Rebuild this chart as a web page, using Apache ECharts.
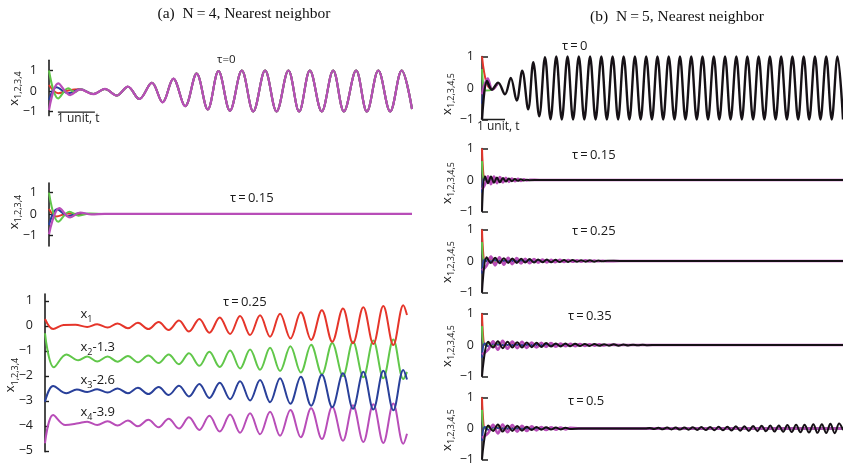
<!DOCTYPE html>
<html>
<head>
<meta charset="utf-8">
<script src="https://cdn.jsdelivr.net/npm/echarts@6/dist/echarts.min.js"></script>
<style>
html,body{margin:0;padding:0;background:#fff}
#c{width:843px;height:466px}
</style>
</head>
<body>
<div id="c"></div>
<script>
// ---------- data: extrema of each trajectory, t in units of the "1 unit" scale bar ----------

// (a) N=4, tau=0 : common trajectory after the initial transient
const tA0 = [0.84,1.20,1.51,1.83,2.13,2.44,2.78,3.07,3.36,3.68,3.99,4.29,4.58,4.89,5.21,5.52,5.84,6.15,6.47,6.76,7.05,7.37,7.68,7.97,8.30,8.59,8.90,9.22,9.53,9.81];
const xA0 = [0.08,-0.15,0.10,-0.22,0.21,-0.39,0.40,-0.55,0.60,-0.74,0.85,-0.90,0.97,-0.96,1.00,-1.00,1.00,-1.00,1.00,-1.00,1.00,-1.00,1.00,-1.00,1.00,-1.00,1.00,-1.00,1.00,-0.88];
const headA0_x1 = [[0,0.29],[0.25,-0.11],[0.55,0.04]];
const headA0_x2 = [[0,1.00],[0.25,-0.36],[0.52,0.13],[0.70,-0.06]];
const headA0_x3 = [[0,-0.44],[0.20,0.18],[0.52,-0.11]];
const headA0_x4 = [[0,-0.93],[0.25,0.37],[0.57,-0.20]];

// (a) N=4, tau=0.15
const A15_x1 = [[0,0.24],[0.20,-0.12],[0.50,0.02],[0.80,0],[9.81,0]];
const A15_x2 = [[0,1.00],[0.25,-0.37],[0.55,0.11],[0.80,-0.08],[1.10,0.02],[1.50,0],[9.81,0]];
const A15_x3 = [[0,-0.52],[0.22,0.22],[0.52,-0.10],[0.80,0.03],[1.20,0],[9.81,0]];
const A15_x4 = [[0,-0.95],[0.28,0.27],[0.57,-0.16],[0.84,0.06],[1.15,-0.02],[1.50,0],[9.81,0]];

// (a) N=4, tau=0.25 (curves shifted by 0, -1.3, -2.6, -3.9)
const tA25 = [1.14,1.41,1.69,1.96,2.24,2.51,2.79,3.07,3.34,3.62,3.89,4.17,4.44,4.72,5.00,5.27,5.54,5.81,6.08,6.35,6.63,6.91,7.19,7.48,7.76,8.05,8.32,8.60,8.87,9.14,9.41,9.68,9.78];
const A25_x1 = [-0.05,0.06,-0.07,0.09,-0.10,0.12,-0.13,0.15,-0.17,0.21,-0.23,0.27,-0.28,0.33,-0.33,0.39,-0.37,0.42,-0.44,0.48,-0.51,0.54,-0.57,0.62,-0.64,0.69,-0.70,0.74,-0.73,0.79,-0.77,0.82,0.43];
const A25_x2 = [-1.23,-1.43,-1.23,-1.44,-1.21,-1.46,-1.19,-1.49,-1.15,-1.54,-1.10,-1.60,-1.04,-1.65,-0.99,-1.71,-0.95,-1.76,-0.88,-1.81,-0.82,-1.87,-0.76,-1.94,-0.69,-2.01,-0.63,-2.06,-0.59,-2.10,-0.55,-2.13,-1.85];
const A25_x3 = [-2.65,-2.54,-2.67,-2.51,-2.70,-2.48,-2.73,-2.45,-2.77,-2.40,-2.83,-2.33,-2.89,-2.28,-2.94,-2.22,-2.99,-2.17,-3.06,-2.10,-3.12,-2.04,-3.20,-1.96,-3.26,-1.90,-3.32,-1.84,-3.35,-1.80,-3.38,-1.77,-2.15];
const A25_x4 = [-3.84,-3.97,-3.82,-3.99,-3.79,-4.02,-3.76,-4.06,-3.72,-4.11,-3.66,-4.17,-3.60,-4.23,-3.55,-4.28,-3.50,-4.34,-3.44,-4.40,-3.37,-4.46,-3.30,-4.53,-3.24,-4.60,-3.18,-4.65,-3.14,-4.69,-3.11,-4.72,-4.32];
const headA25_x1 = [[0,0.27],[0.22,-0.13],[0.50,0.03],[0.82,0.04]];
const headA25_x2 = [[0,-0.30],[0.24,-1.66],[0.58,-1.15],[0.90,-1.38]];
const headA25_x3 = [[0,-3.04],[0.22,-2.41],[0.58,-2.70],[0.86,-2.55]];
const headA25_x4 = [[0,-4.70],[0.22,-3.57],[0.55,-3.97],[0.90,-3.90]];

// (b) N=5, tau=0
const tB0 = [0,0.22,0.43,0.70,1.00,1.25,1.51,1.75,2.01,2.23,2.49,2.74,2.98,3.23,3.47,3.72,3.96,4.21,4.45,4.70,4.94,5.19,5.43,5.68,5.92,6.16,6.41,6.65,6.90,7.14,7.39,7.63,7.88,8.12,8.37,8.61,8.85,9.10,9.34,9.59,9.83,10.08,10.32,10.57,10.81,11.06,11.30,11.54,11.79,12.03,12.28,12.52,12.77,13.01,13.26,13.50,13.75,13.99,14.23,14.48,14.72,14.97,15.21,15.46,15.70];
const xB0 = [-1.00,0.22,-0.05,0.17,-0.20,0.32,-0.40,0.55,-0.68,0.82,-0.90,0.98,-0.99,1,-1,1,-1,1,-1,1,-1,1,-1,1,-1,1,-1,1,-1,1,-1,1,-1,1,-1,1,-1,1,-1,1,-1,1,-1,1,-1,1,-1,1,-1,1,-1,1,-1,1,-1,1,-1,1,-1,1,-1,1,-1,1,-1];
const B0_x1 = [[0,1.00],[0.20,0.15],[0.43,-0.05],[0.70,0.17]];
const B0_x2 = [[0,0.60],[0.15,-0.08],[0.43,-0.05],[0.70,0.17]];
const B0_x3 = [[0,-0.50],[0.20,0.18],[0.43,-0.05],[0.70,0.17]];
const B0_x4 = [[0,-0.20],[0.25,0.30],[0.45,-0.05],[0.70,0.17]];

// (b) short transients shared by the damped panels
const Bh_x1 = [[0,1.00],[0.13,0.00],[0.30,0.08],[0.50,-0.06],[0.75,0.05],[1.00,-0.03],[1.30,0.02],[1.70,0],[15.70,0]];
const Bh_x2 = [[0,0.60],[0.10,0.00],[0.25,0.06],[0.45,-0.04],[0.70,0.03],[1.00,0],[15.70,0]];
const Bh_x3 = [[0,-0.40],[0.12,0.05],[0.30,-0.05],[0.50,0.04],[0.80,0],[15.70,0]];

// (b) tau=0.15
const tB15 = [0.13,0.26,0.39,0.52,0.65,0.78,0.91,1.04,1.17,1.30,1.43,1.56,1.69,1.82,1.95,2.08];
const B15_x5 = [0.12,-0.10,0.11,-0.09,0.08,-0.07,0.06,-0.05,0.045,-0.04,0.03,-0.025,0.02,-0.015,0.01,-0.005];
const B15_x4 = [-0.14,0.12,-0.13,0.11,-0.10,0.09,-0.08,0.07,-0.06,0.05,-0.04,0.035,-0.03,0.02,-0.015,0.01];

// (b) tau=0.25
const tB25 = [0.20,0.39,0.57,0.76,0.95,1.14,1.32,1.51,1.70,1.88,2.07,2.26,2.44,2.63,2.82,3.01,3.19,3.38,3.57,3.75,3.94,4.13,4.31,4.50,4.69,4.88,5.06,5.25,5.44];
const B25_x5 = [0.12,-0.06,0.10,-0.07,0.09,-0.06,0.08,-0.06,0.07,-0.05,0.06,-0.05,0.05,-0.04,0.045,-0.04,0.04,-0.035,0.035,-0.03,0.03,-0.025,0.025,-0.02,0.02,-0.02,0.015,-0.01,0.01];
const B25_x4 = [-0.15,0.14,-0.14,0.12,-0.12,0.10,-0.10,0.09,-0.08,0.07,-0.07,0.06,-0.05,0.05,-0.045,0.04,-0.04,0.035,-0.03,0.03,-0.025,0.025,-0.02,0.02,-0.015,0.015,-0.01,0.01,-0.01];

// (b) tau=0.35
const tB35 = [0.27,0.48,0.69,0.90,1.11,1.32,1.53,1.74,1.95,2.16,2.37,2.58,2.79,3.00,3.21,3.42,3.63,3.84,4.05,4.26,4.47,4.68,4.89,5.10,5.31,5.52,5.73,5.94,6.15,6.36,6.57,6.78,6.99,7.20];
const B35_x5 = [0.10,-0.08,0.12,-0.10,0.10,-0.08,0.09,-0.08,0.08,-0.07,0.07,-0.06,0.06,-0.05,0.05,-0.045,0.045,-0.04,0.04,-0.035,0.035,-0.03,0.03,-0.025,0.025,-0.02,0.02,-0.02,0.015,-0.015,0.01,-0.01,0.01,-0.005];
const B35_x4 = [-0.15,0.12,-0.15,0.13,-0.12,0.11,-0.10,0.10,-0.09,0.08,-0.08,0.07,-0.06,0.06,-0.05,0.05,-0.04,0.04,-0.035,0.03,-0.03,0.025,-0.02,0.02,-0.015,0.01];

// (b) tau=0.5 : damped start, then a slowly growing oscillation
const tB5a = [0.27,0.48,0.69,0.90,1.11,1.32,1.53,1.74,1.95,2.16,2.37,2.58,2.79,3.00,3.21,3.42,3.63,3.84];
const B5a_x5 = [0.10,-0.08,0.13,-0.10,0.10,-0.08,0.08,-0.07,0.06,-0.05,0.05,-0.04,0.04,-0.035,0.03,-0.03,0.025,-0.02];
const B5a_x4 = [-0.15,0.12,-0.16,0.13,-0.12,0.11,-0.10,0.09,-0.08,0.07,-0.06,0.05,-0.05,0.04,-0.035,0.03,-0.03,0.02];
const tB5b = [4.20,7.10,7.30,7.49,7.67,7.86,8.05,8.24,8.42,8.61,8.80,8.98,9.17,9.36,9.54,9.73,9.92,10.11,10.29,10.48,10.67,10.85,11.04,11.23,11.41,11.60,11.79,11.98,12.16,12.35,12.54,12.72,12.91,13.10,13.28,13.47,13.66,13.85,14.03,14.22,14.41,14.59,14.78,14.97,15.15,15.34,15.53,15.70];
const B5b_x5 = [0,0,0.02,-0.02,0.025,-0.025,0.03,-0.03,0.03,-0.035,0.035,-0.04,0.04,-0.045,0.045,-0.05,0.05,-0.055,0.055,-0.06,0.06,-0.065,0.07,-0.07,0.075,-0.08,0.08,-0.085,0.09,-0.09,0.095,-0.10,0.10,-0.105,0.11,-0.115,0.12,-0.12,0.125,-0.13,0.135,-0.14,0.14,-0.145,0.15,-0.155,0.16,-0.05];

// ---------- styling ----------
const SANS = "'Open Sans', 'DejaVu Sans', sans-serif";
const SERIF = "'Liberation Serif', 'DejaVu Serif', serif";
const C = { x1:'#e5352a', x2:'#61c74a', x3:'#29409a', x4:'#b84db8', x5:'#161116', ink:'#1e1e1e' };

const pairs = (ts, vs) => ts.map((t, i) => [t, vs[i]]);
const minus = v => (v < 0 ? '\u2212' + Math.abs(v) : String(v));

// panel frames
const grids = [
  { left: 49,  top: 60.25, width: 363, height: 55.35 }, // a, tau=0
  { left: 49,  top: 183.1, width: 363, height: 62.8 },  // a, tau=0.15
  { left: 45,  top: 294,   width: 362, height: 157.75 },// a, tau=0.25
  { left: 482, top: 56.5,  width: 361, height: 63 },    // b, tau=0
  { left: 482, top: 148.5, width: 361, height: 63 },    // b, tau=0.15
  { left: 482, top: 229.5, width: 361, height: 63 },    // b, tau=0.25
  { left: 482, top: 313.5, width: 361, height: 63 },    // b, tau=0.35
  { left: 482, top: 397.5, width: 361, height: 63 }     // b, tau=0.5
];
const xMax = [9.81, 9.81, 9.78, 15.70, 15.70, 15.70, 15.70, 15.70];
const yRange = [[-1.2,1.5],[-1.5,1.45],[-5.04,1.27],[-1,1],[-1,1],[-1,1],[-1,1],[-1,1]];
const yTicksA = [[-1,0,1],[-1,0,1],[-5,-4,-3,-2,-1,0,1]];

const xAxes = grids.map((g, i) => ({ gridIndex: i, type: 'value', min: 0, max: xMax[i], show: false }));
const yAxes = grids.map((g, i) => {
  const isA = i < 3;
  const labels = isA ? yTicksA[i] : [-1, 0, 1];
  return {
    gridIndex: i, type: 'value', min: yRange[i][0], max: yRange[i][1],
    axisLine: { show: true, onZero: false, lineStyle: { color: C.ink, width: isA ? 1.6 : 1.5 } },
    axisTick: { show: true, inside: true, length: isA ? 4 : 6, customValues: isA ? labels : [-1, 1],
                lineStyle: { color: C.ink, width: isA ? 1.4 : 1.5 } },
    axisLabel: { show: true, customValues: labels, formatter: minus, margin: isA ? 12 : 8,
                 color: '#222', fontFamily: SANS, fontSize: 12.5 },
    splitLine: { show: false }
  };
});

function line(data, panel, color, width, smooth) {
  return {
    type: 'line', data, xAxisIndex: panel, yAxisIndex: panel,
    showSymbol: false, symbol: 'none', smooth: smooth === undefined ? 0.36 : smooth,
    lineStyle: { color, width }, itemStyle: { color },
    animation: false, silent: true, clip: false
  };
}

const common = pairs(tA0, xA0);
const series = [
  // (a) tau=0
  line(headA0_x1.concat(common), 0, C.x1, 2),
  line(headA0_x3.concat(common), 0, C.x3, 2),
  line(headA0_x2.concat(common), 0, C.x2, 2),
  line(headA0_x4.concat(common), 0, C.x4, 2.2),
  // (a) tau=0.15
  line(A15_x1, 1, C.x1, 2),
  line(A15_x3, 1, C.x3, 2),
  line(A15_x2, 1, C.x2, 2),
  line(A15_x4, 1, C.x4, 2.2),
  // (a) tau=0.25
  line(headA25_x2.concat(pairs(tA25, A25_x2)), 2, C.x2, 2),
  line(headA25_x1.concat(pairs(tA25, A25_x1)), 2, C.x1, 2),
  line(headA25_x4.concat(pairs(tA25, A25_x4)), 2, C.x4, 2),
  line(headA25_x3.concat(pairs(tA25, A25_x3)), 2, C.x3, 2),
  // (b) tau=0
  line(B0_x1, 3, C.x1, 2),
  line(B0_x2, 3, C.x2, 2),
  line(B0_x3, 3, C.x3, 2),
  line(B0_x4, 3, C.x4, 2.4),
  line(pairs(tB0, xB0), 3, C.x5, 2.4),
  // (b) tau=0.15 .. 0.5
  ...[4, 5, 6, 7].flatMap(p => [line(Bh_x1, p, C.x1, 2), line(Bh_x2, p, C.x2, 2), line(Bh_x3, p, C.x3, 2)]),
  line([[0,-0.30]].concat(pairs(tB15, B15_x4), [[2.50,0],[15.70,0]]), 4, C.x4, 2.6),
  line([[0,-1]].concat(pairs(tB15, B15_x5), [[2.50,0],[15.70,0]]), 4, C.x5, 2),
  line([[0,-0.30]].concat(pairs(tB25, B25_x4), [[6.00,0],[15.70,0]]), 5, C.x4, 2.6),
  line([[0,-1]].concat(pairs(tB25, B25_x5), [[6.00,0],[15.70,0]]), 5, C.x5, 2),
  line([[0,-0.30]].concat(pairs(tB35.slice(0, B35_x4.length), B35_x4), [[6.00,0],[15.70,0]]), 6, C.x4, 2.6),
  line([[0,-1]].concat(pairs(tB35, B35_x5), [[7.60,0],[15.70,0]]), 6, C.x5, 2),
  line([[0,-0.30]].concat(pairs(tB5a, B5a_x4), [[4.50,0],[15.70,0]]), 7, C.x4, 2.6),
  line([[0,-1]].concat(pairs(tB5a, B5a_x5), pairs(tB5b, B5b_x5)), 7, C.x5, 2),
  // "1 unit" scale bars
  line([[0.24,-1.03],[1.24,-1.03]], 0, C.ink, 1.3, false),
  line([[0,-1],[1,-1]], 3, C.ink, 1.5, false)
];

// ---------- text ----------
const mctx = document.createElement('canvas').getContext('2d');
function textWidth(s, size, fam) { mctx.font = size + 'px ' + fam; return mctx.measureText(s).width; }

function txt(x, y, s, size, opts) {
  return Object.assign({ type: 'text', x, y, silent: true,
    style: { text: s, fill: '#1a1a1a', font: size + 'px ' + SANS, textAlign: 'left', textVerticalAlign: 'middle' } }, opts || {});
}

// "x" with a subscript and an optional tail, laid out left to right in local coords
function subLabel(parts, size, subSize, drop) {
  let cx = 0; const kids = [];
  parts.forEach(p => {
    const fs = p.sub ? subSize : size;
    kids.push({ type: 'text', x: cx, y: p.sub ? drop : 0, silent: true,
      style: { text: p.t, fill: '#1a1a1a', font: fs + 'px ' + SANS, textAlign: 'left', textVerticalAlign: 'middle' } });
    cx += textWidth(p.t, fs, SANS);
  });
  return { kids, width: cx };
}
function rotatedYLabel(cx, cy, sub) {
  const l = subLabel([{ t: 'x' }, { t: sub, sub: true }], 13, 9, 4.5);
  l.kids.forEach(k => { k.x -= l.width / 2; });
  return { type: 'group', x: cx, y: cy, rotation: Math.PI / 2, children: l.kids, silent: true };
}
function inlineLabel(x, y, sub, tail) {
  const parts = [{ t: 'x' }, { t: sub, sub: true }];
  if (tail) parts.push({ t: tail });
  const l = subLabel(parts, 13, 9, 5);
  return { type: 'group', x, y, children: l.kids, silent: true };
}

const graphic = [
  { type: 'text', x: 244, y: 14, silent: true, style: { text: '(a)  N\u2009=\u20094, Nearest neighbor', font: '15.5px ' + SERIF, fill: '#111', textAlign: 'center', textVerticalAlign: 'middle' } },
  { type: 'text', x: 677, y: 17, silent: true, style: { text: '(b)  N\u2009=\u20095, Nearest neighbor', font: '15.5px ' + SERIF, fill: '#111', textAlign: 'center', textVerticalAlign: 'middle' } },
  txt(217, 60, '\u03c4=0', 11.5),
  txt(230, 198, '\u03c4\u2009=\u20090.15', 13),
  txt(223, 302.5, '\u03c4\u2009=\u20090.25', 13),
  txt(562, 46.5, '\u03c4\u2009=\u20090', 13),
  txt(572, 155, '\u03c4\u2009=\u20090.15', 13),
  txt(572, 231.5, '\u03c4\u2009=\u20090.25', 13),
  txt(568, 316.5, '\u03c4\u2009=\u20090.35', 13),
  txt(568, 401, '\u03c4\u2009=\u20090.5', 13),
  txt(57, 118.5, '1 unit, t', 12),
  txt(477, 127, '1 unit, t', 12),
  rotatedYLabel(14, 88.5, '1,2,3,4'),
  rotatedYLabel(14, 212, '1,2,3,4'),
  rotatedYLabel(10.5, 375, '1,2,3,4'),
  rotatedYLabel(447, 94, '1,2,3,4,5'),
  rotatedYLabel(447, 183, '1,2,3,4,5'),
  rotatedYLabel(447, 262, '1,2,3,4,5'),
  rotatedYLabel(447, 346, '1,2,3,4,5'),
  rotatedYLabel(447, 430, '1,2,3,4,5'),
  inlineLabel(80.5, 314.5, '1'),
  inlineLabel(80.5, 347.5, '2', '-1.3'),
  inlineLabel(80.5, 380.5, '3', '-2.6'),
  inlineLabel(80.5, 412.5, '4', '-3.9')
];

const chart = echarts.init(document.getElementById('c'), null, { renderer: 'canvas', width: 843, height: 466 });
chart.setOption({
  backgroundColor: '#ffffff',
  animation: false,
  grid: grids,
  xAxis: xAxes,
  yAxis: yAxes,
  series,
  graphic
});
</script>
</body>
</html>
